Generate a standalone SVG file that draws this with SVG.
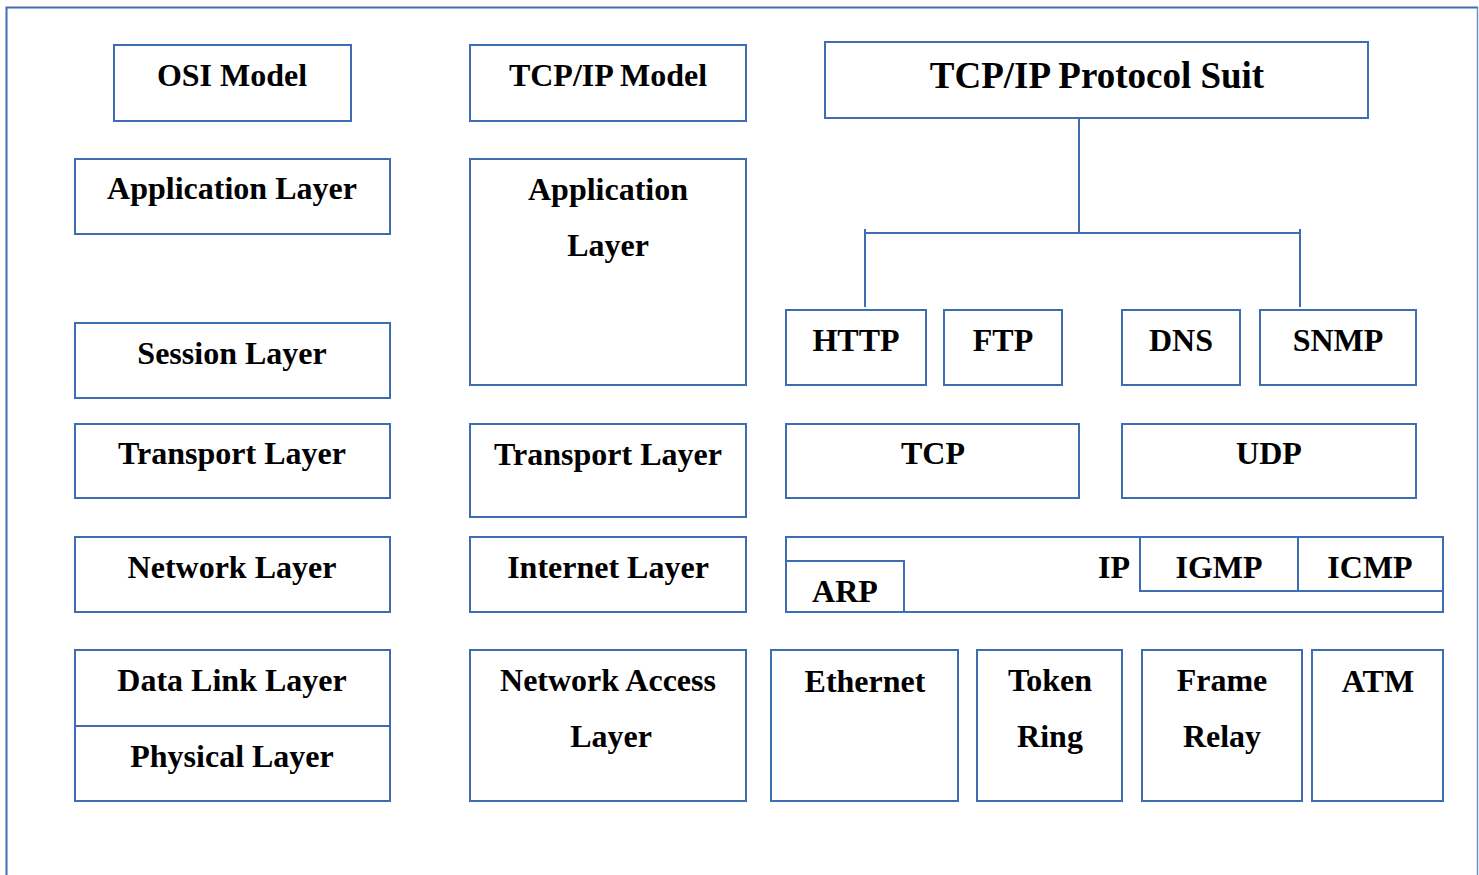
<svg xmlns="http://www.w3.org/2000/svg" width="1479" height="875" viewBox="0 0 1479 875">
  <style>
    .box { fill: #ffffff; stroke: #3F6DB3; stroke-width: 2; }
    .ln { fill: none; stroke: #3F6DB3; stroke-width: 2; }
    .frame-edge { fill: none; stroke: #6F93CC; stroke-width: 1.5; }
    text { font-family: "Liberation Serif", "Times New Roman", serif; font-weight: bold; font-size: 32px; fill: #000000; text-anchor: middle; }
    .big { font-size: 37px; }
  </style>
  <rect width="1479" height="875" fill="#ffffff"/>
  <!-- outer frame -->
  <path class="ln" d="M6.5 875 V7.5 H1478"/>
  <path class="frame-edge" d="M1477.5 7.5 V875"/>

  <!-- OSI column -->
  <g id="osi-title"><rect class="box" x="114" y="45" width="237" height="76"/><text x="232" y="86">OSI Model</text></g>
  <g id="osi-application"><rect class="box" x="75" y="159" width="315" height="75"/><text x="232" y="199">Application Layer</text></g>
  <g id="osi-session"><rect class="box" x="75" y="323" width="315" height="75"/><text x="232" y="364">Session Layer</text></g>
  <g id="osi-transport"><rect class="box" x="75" y="424" width="315" height="74"/><text x="232" y="464">Transport Layer</text></g>
  <g id="osi-network"><rect class="box" x="75" y="537" width="315" height="75"/><text x="232" y="578">Network Layer</text></g>
  <g id="osi-datalink"><rect class="box" x="75" y="650" width="315" height="76"/><text x="232" y="691">Data Link Layer</text></g>
  <g id="osi-physical"><rect class="box" x="75" y="726" width="315" height="75"/><text x="232" y="767">Physical Layer</text></g>

  <!-- TCP/IP model column -->
  <g id="tcpip-title"><rect class="box" x="470" y="45" width="276" height="76"/><text x="608" y="86">TCP/IP Model</text></g>
  <g id="tcpip-application"><rect class="box" x="470" y="159" width="276" height="226"/><text x="608" y="200">Application</text><text x="608" y="256">Layer</text></g>
  <g id="tcpip-transport"><rect class="box" x="470" y="424" width="276" height="93"/><text x="608" y="465">Transport Layer</text></g>
  <g id="tcpip-internet"><rect class="box" x="470" y="537" width="276" height="75"/><text x="608" y="578">Internet Layer</text></g>
  <g id="tcpip-netaccess"><rect class="box" x="470" y="650" width="276" height="151"/><text x="608" y="691">Network Access</text><text x="611" y="747">Layer</text></g>

  <!-- Protocol suite -->
  <g id="suite-title"><rect class="box" x="825" y="42" width="543" height="76"/><text class="big" x="1097" y="88">TCP/IP Protocol Suit</text></g>

  <g id="connectors">
    <path class="ln" d="M1079 118 V233"/>
    <path class="ln" d="M865 233 H1300"/>
    <path class="ln" d="M865 229 V307"/>
    <path class="ln" d="M1300 229 V307"/>
  </g>

  <g id="http"><rect class="box" x="786" y="310" width="140" height="75"/><text x="856" y="351">HTTP</text></g>
  <g id="ftp"><rect class="box" x="944" y="310" width="118" height="75"/><text x="1003" y="351">FTP</text></g>
  <g id="dns"><rect class="box" x="1122" y="310" width="118" height="75"/><text x="1181" y="351">DNS</text></g>
  <g id="snmp"><rect class="box" x="1260" y="310" width="156" height="75"/><text x="1338" y="351">SNMP</text></g>

  <g id="tcp"><rect class="box" x="786" y="424" width="293" height="74"/><text x="933" y="464">TCP</text></g>
  <g id="udp"><rect class="box" x="1122" y="424" width="294" height="74"/><text x="1269" y="464">UDP</text></g>

  <g id="ip"><rect class="box" x="786" y="537" width="657" height="75"/><text x="1114" y="578">IP</text></g>
  <g id="arp"><rect class="box" x="786" y="561" width="118" height="51"/><text x="845" y="602">ARP</text></g>
  <g id="igmp"><rect class="box" x="1140" y="537" width="158" height="54"/><text x="1219" y="578">IGMP</text></g>
  <g id="icmp"><rect class="box" x="1298" y="537" width="145" height="54"/><text x="1370" y="578">ICMP</text></g>

  <g id="ethernet"><rect class="box" x="771" y="650" width="187" height="151"/><text x="865" y="692">Ethernet</text></g>
  <g id="token-ring"><rect class="box" x="977" y="650" width="145" height="151"/><text x="1050" y="691">Token</text><text x="1050" y="747">Ring</text></g>
  <g id="frame-relay"><rect class="box" x="1142" y="650" width="160" height="151"/><text x="1222" y="691">Frame</text><text x="1222" y="747">Relay</text></g>
  <g id="atm"><rect class="box" x="1312" y="650" width="131" height="151"/><text x="1378" y="692">ATM</text></g>
</svg>
